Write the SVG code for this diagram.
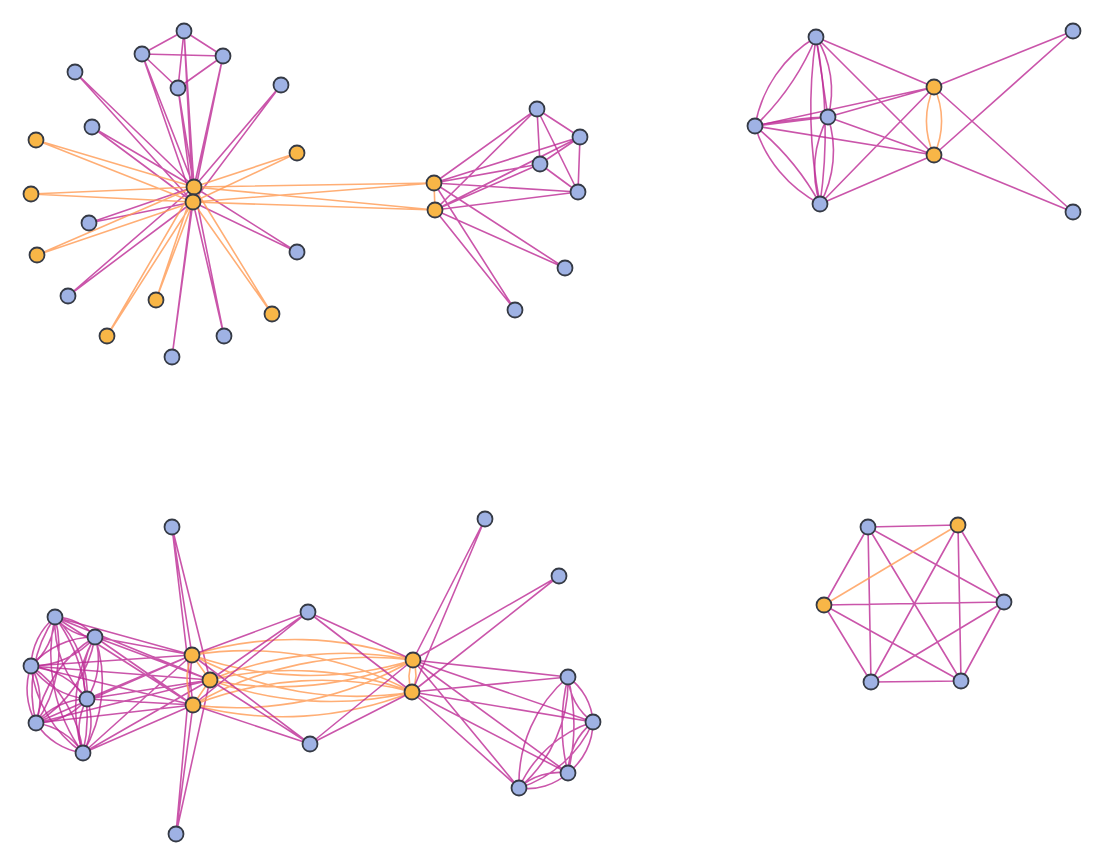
<svg xmlns="http://www.w3.org/2000/svg" width="1104" height="864" viewBox="0 0 1104 864">
<style>
.e{stroke:#bd2a95;stroke-opacity:0.8;stroke-width:1.6;fill:none}
.o{stroke:#ff9a52;stroke-opacity:0.8;stroke-width:1.6;fill:none}
.b{fill:#9fb2e4;stroke:#353a45;stroke-width:1.8}
.y{fill:#f8b647;stroke:#353a45;stroke-width:1.8}
</style>
<rect width="1104" height="864" fill="#ffffff"/>
<g id="connectors">
<!-- cluster 1 -->
<path class="e" d="M184 31L142 54M184 31L223 56M142 54L223 56M184 31L178 88M142 54L178 88M223 56L178 88"/>
<path class="e" d="M184 31L194 187M184 31L193 202M142 54L194 187M142 54L193 202M223 56L194 187M223 56L193 202M178 88L194 187M178 88L193 202"/>
<path class="e" d="M75 72L194 187M75 72L193 202M281 85L194 187M281 85L193 202M92 127L194 187M92 127L193 202M89 223L194 187M89 223L193 202M297 252L194 187M297 252L193 202M68 296L194 187M68 296L193 202M224 336L194 187M224 336L193 202M172 357L194 187M172 357L193 202"/>
<path class="o" d="M36 140L194 187M36 140L193 202M297 153L194 187M297 153L193 202M31 194L194 187M31 194L193 202M37 255L194 187M37 255L193 202M156 300L194 187M156 300L193 202M107 336L194 187M107 336L193 202M272 314L194 187M272 314L193 202"/>
<path class="o" d="M194 187L434 183M194 187L435 210M193 202L434 183M193 202L435 210M434 183L435 210M194 187L193 202"/>
<path class="e" d="M434 183L537 109M435 210L537 109M434 183L580 137M435 210L580 137M434 183L540 164M435 210L540 164M434 183L578 192M435 210L578 192M434 183L565 268M435 210L565 268M434 183L515 310M435 210L515 310"/>
<path class="e" d="M537 109L580 137M537 109L540 164M537 109L578 192M580 137L540 164M580 137L578 192M540 164L578 192"/>
<!-- cluster 2 -->
<path class="e" d="M816 37A130 130 0 0 0 755 126M816 37A260 260 0 0 1 755 126"/>
<path class="e" d="M816 37L828 117M816 37A100 100 0 0 1 828 117"/>
<path class="e" d="M816 37A500 500 0 0 0 820 204M816 37A500 500 0 0 1 820 204"/>
<path class="e" d="M755 126L828 117M755 126A400 400 0 0 1 828 117"/>
<path class="e" d="M755 126A130 130 0 0 0 820 204M755 126A260 260 0 0 1 820 204"/>
<path class="e" d="M828 117A110 110 0 0 0 820 204M828 117A110 110 0 0 1 820 204"/>
<path class="e" d="M816 37L934 87M816 37L934 155M755 126L934 87M755 126L934 155M828 117L934 87M828 117L934 155M820 204L934 87M820 204L934 155"/>
<path class="e" d="M934 87L1073 31M934 87L1073 212M934 155L1073 31M934 155L1073 212"/>
<path class="o" d="M934 87A80 80 0 0 0 934 155M934 87A80 80 0 0 1 934 155"/>
<!-- cluster 3: left clique -->
<path class="e" d="M55 617A54 54 0 0 0 95 637M55 617A54 54 0 0 1 95 637M55 617A66 66 0 0 0 31 666M55 617A66 66 0 0 1 31 666M55 617A106 106 0 0 0 87 699M55 617A106 106 0 0 1 87 699M55 617A130 130 0 0 0 36 723M55 617A130 130 0 0 1 36 723M55 617A167 167 0 0 0 83 753M55 617A167 167 0 0 1 83 753"/>
<path class="e" d="M95 637A84 84 0 0 0 31 666M95 637A84 84 0 0 1 31 666M95 637A75 75 0 0 0 87 699M95 637A75 75 0 0 1 87 699M95 637A125 125 0 0 0 36 723M95 637A125 125 0 0 1 36 723M95 637A140 140 0 0 0 83 753M95 637A140 140 0 0 1 83 753"/>
<path class="e" d="M31 666A78 78 0 0 0 87 699M31 666A78 78 0 0 1 87 699M31 666A69 69 0 0 0 36 723M31 666A69 69 0 0 1 36 723M31 666A122 122 0 0 0 83 753M31 666A122 122 0 0 1 83 753"/>
<path class="e" d="M87 699A68 68 0 0 0 36 723M87 699A68 68 0 0 1 36 723M87 699A65 65 0 0 0 83 753M87 699A65 65 0 0 1 83 753M36 723A67 67 0 0 0 83 753M36 723A67 67 0 0 1 83 753"/>
<path class="e" d="M55 617L192 655M55 617L210 680M55 617L193 705M95 637L192 655M95 637L210 680M95 637L193 705M31 666L192 655M31 666L210 680M31 666L193 705M87 699L192 655M87 699L210 680M87 699L193 705M36 723L192 655M36 723L210 680M36 723L193 705M83 753L192 655M83 753L210 680M83 753L193 705"/>
<path class="e" d="M172 527L192 655M172 527L210 680M172 527L193 705M176 834L192 655M176 834L210 680M176 834L193 705"/>
<path class="o" d="M192 655L210 680M210 680L193 705M192 655A60 60 0 0 0 193 705"/>
<path class="o" d="M192 655A350 350 0 0 1 413 660M192 655A350 350 0 0 0 413 660M192 655A350 350 0 0 1 412 692M192 655A350 350 0 0 0 412 692M210 680A350 350 0 0 1 413 660M210 680A350 350 0 0 0 413 660M210 680A350 350 0 0 1 412 692M210 680A350 350 0 0 0 412 692M193 705A350 350 0 0 1 413 660M193 705A350 350 0 0 0 413 660M193 705A350 350 0 0 1 412 692M193 705A350 350 0 0 0 412 692"/>
<path class="o" d="M413 660A40 40 0 0 0 412 692M413 660A40 40 0 0 1 412 692"/>
<path class="e" d="M308 612L192 655M308 612L210 680M308 612L193 705M310 744L192 655M310 744L210 680M310 744L193 705M308 612L413 660M308 612L412 692M310 744L413 660M310 744L412 692"/>
<path class="e" d="M485 519L413 660M485 519L412 692M559 576L413 660M559 576L412 692"/>
<path class="e" d="M413 660L568 677M412 692L568 677M413 660L593 722M412 692L593 722M413 660L568 773M412 692L568 773M413 660L519 788M412 692L519 788"/>
<path class="e" d="M568 677A60 60 0 0 0 593 722M568 677A60 60 0 0 1 593 722M568 677A200 200 0 0 0 568 773M568 677A200 200 0 0 1 568 773M568 677A140 140 0 0 0 519 788M568 677A140 140 0 0 1 519 788M593 722A65 65 0 0 0 568 773M593 722A65 65 0 0 1 568 773M593 722A120 120 0 0 0 519 788M593 722A120 120 0 0 1 519 788M568 773A60 60 0 0 0 519 788M568 773A60 60 0 0 1 519 788"/>
<!-- cluster 4 -->
<path class="e" d="M868 527L958 525M868 527L1004 602M868 527L961 681M868 527L871 682M868 527L824 605M958 525L1004 602M958 525L961 681M958 525L871 682M1004 602L961 681M1004 602L871 682M1004 602L824 605M961 681L871 682M961 681L824 605M871 682L824 605"/>
<path class="o" d="M824 605L958 525"/>
</g>
<g id="n1-a"><circle class="b" cx="184" cy="31" r="7.5"/></g>
<g id="n1-b"><circle class="b" cx="142" cy="54" r="7.5"/></g>
<g id="n1-c"><circle class="b" cx="223" cy="56" r="7.5"/></g>
<g id="n1-d"><circle class="b" cx="178" cy="88" r="7.5"/></g>
<g id="n1-e"><circle class="b" cx="75" cy="72" r="7.5"/></g>
<g id="n1-f"><circle class="b" cx="281" cy="85" r="7.5"/></g>
<g id="n1-g"><circle class="b" cx="92" cy="127" r="7.5"/></g>
<g id="n1-h"><circle class="b" cx="89" cy="223" r="7.5"/></g>
<g id="n1-i"><circle class="b" cx="297" cy="252" r="7.5"/></g>
<g id="n1-j"><circle class="b" cx="68" cy="296" r="7.5"/></g>
<g id="n1-k"><circle class="b" cx="224" cy="336" r="7.5"/></g>
<g id="n1-l"><circle class="b" cx="172" cy="357" r="7.5"/></g>
<g id="n1-o1"><circle class="y" cx="36" cy="140" r="7.5"/></g>
<g id="n1-o2"><circle class="y" cx="297" cy="153" r="7.5"/></g>
<g id="n1-o3"><circle class="y" cx="31" cy="194" r="7.5"/></g>
<g id="n1-o4"><circle class="y" cx="37" cy="255" r="7.5"/></g>
<g id="n1-o5"><circle class="y" cx="156" cy="300" r="7.5"/></g>
<g id="n1-o6"><circle class="y" cx="107" cy="336" r="7.5"/></g>
<g id="n1-o7"><circle class="y" cx="272" cy="314" r="7.5"/></g>
<g id="n1-h1"><circle class="y" cx="194" cy="187" r="7.5"/></g>
<g id="n1-h2"><circle class="y" cx="193" cy="202" r="7.5"/></g>
<g id="n1-r1"><circle class="y" cx="434" cy="183" r="7.5"/></g>
<g id="n1-r2"><circle class="y" cx="435" cy="210" r="7.5"/></g>
<g id="n1-s1"><circle class="b" cx="537" cy="109" r="7.5"/></g>
<g id="n1-s2"><circle class="b" cx="580" cy="137" r="7.5"/></g>
<g id="n1-s3"><circle class="b" cx="540" cy="164" r="7.5"/></g>
<g id="n1-s4"><circle class="b" cx="578" cy="192" r="7.5"/></g>
<g id="n1-s5"><circle class="b" cx="565" cy="268" r="7.5"/></g>
<g id="n1-s6"><circle class="b" cx="515" cy="310" r="7.5"/></g>
<g id="n2-p1"><circle class="b" cx="816" cy="37" r="7.5"/></g>
<g id="n2-p2"><circle class="b" cx="755" cy="126" r="7.5"/></g>
<g id="n2-p3"><circle class="b" cx="828" cy="117" r="7.5"/></g>
<g id="n2-p4"><circle class="b" cx="820" cy="204" r="7.5"/></g>
<g id="n2-o1"><circle class="y" cx="934" cy="87" r="7.5"/></g>
<g id="n2-o2"><circle class="y" cx="934" cy="155" r="7.5"/></g>
<g id="n2-q1"><circle class="b" cx="1073" cy="31" r="7.5"/></g>
<g id="n2-q2"><circle class="b" cx="1073" cy="212" r="7.5"/></g>
<g id="n3-l1"><circle class="b" cx="55" cy="617" r="7.5"/></g>
<g id="n3-l2"><circle class="b" cx="95" cy="637" r="7.5"/></g>
<g id="n3-l3"><circle class="b" cx="31" cy="666" r="7.5"/></g>
<g id="n3-l4"><circle class="b" cx="87" cy="699" r="7.5"/></g>
<g id="n3-l5"><circle class="b" cx="36" cy="723" r="7.5"/></g>
<g id="n3-l6"><circle class="b" cx="83" cy="753" r="7.5"/></g>
<g id="n3-t"><circle class="b" cx="172" cy="527" r="7.5"/></g>
<g id="n3-bt"><circle class="b" cx="176" cy="834" r="7.5"/></g>
<g id="n3-g1"><circle class="y" cx="192" cy="655" r="7.5"/></g>
<g id="n3-g2"><circle class="y" cx="210" cy="680" r="7.5"/></g>
<g id="n3-g3"><circle class="y" cx="193" cy="705" r="7.5"/></g>
<g id="n3-m1"><circle class="b" cx="308" cy="612" r="7.5"/></g>
<g id="n3-m2"><circle class="b" cx="310" cy="744" r="7.5"/></g>
<g id="n3-k1"><circle class="y" cx="413" cy="660" r="7.5"/></g>
<g id="n3-k2"><circle class="y" cx="412" cy="692" r="7.5"/></g>
<g id="n3-f1"><circle class="b" cx="485" cy="519" r="7.5"/></g>
<g id="n3-f2"><circle class="b" cx="559" cy="576" r="7.5"/></g>
<g id="n3-n1"><circle class="b" cx="568" cy="677" r="7.5"/></g>
<g id="n3-n2"><circle class="b" cx="593" cy="722" r="7.5"/></g>
<g id="n3-n3"><circle class="b" cx="568" cy="773" r="7.5"/></g>
<g id="n3-n4"><circle class="b" cx="519" cy="788" r="7.5"/></g>
<g id="n4-a"><circle class="b" cx="868" cy="527" r="7.5"/></g>
<g id="n4-b"><circle class="y" cx="958" cy="525" r="7.5"/></g>
<g id="n4-c"><circle class="b" cx="1004" cy="602" r="7.5"/></g>
<g id="n4-d"><circle class="b" cx="961" cy="681" r="7.5"/></g>
<g id="n4-e"><circle class="b" cx="871" cy="682" r="7.5"/></g>
<g id="n4-f"><circle class="y" cx="824" cy="605" r="7.5"/></g>
</svg>
